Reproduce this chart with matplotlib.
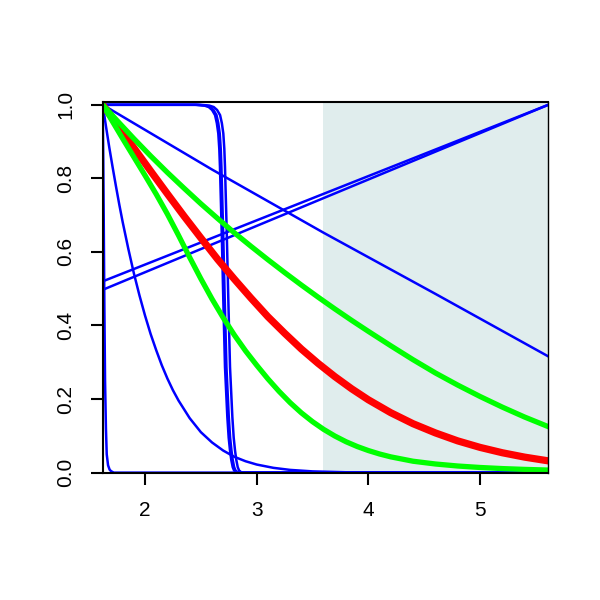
import matplotlib
matplotlib.use("Agg")
import matplotlib.pyplot as plt

plt.rcParams['font.family'] = ['Liberation Sans', 'DejaVu Sans']

# shaded interval on the x axis
shade_from = 3.59
shade_to = 5.611

# steep blue drop at the left edge
a_x = [1.621, 1.626, 1.630, 1.636, 1.642, 1.650, 1.657, 1.669, 1.683, 1.696, 1.720, 1.800, 5.611]
a_y = [1.0, 0.85, 0.70, 0.45, 0.25, 0.12, 0.05, 0.02, 0.008, 0.004, 0.0, 0.0, 0.0]

# blue fast decay
b_x = [1.621, 1.65, 1.68, 1.71, 1.74, 1.77, 1.80, 1.85, 1.90, 1.95, 2.00, 2.05, 2.10, 2.15,
       2.20, 2.25, 2.30, 2.40, 2.50, 2.60, 2.70, 2.80, 2.90, 3.00, 3.15, 3.30, 3.50, 3.80, 4.20, 5.611]
b_y = [1.0, 0.942, 0.884, 0.830, 0.778, 0.728, 0.681, 0.609, 0.542, 0.482, 0.427, 0.377, 0.333, 0.292,
       0.256, 0.224, 0.196, 0.148, 0.110, 0.082, 0.060, 0.043, 0.031, 0.022, 0.013, 0.0074, 0.0034, 0.001, 0.0003, 0.0]

# blue step-like curves near x = 2.7
c_y = [1.0, 1.0, 0.998, 0.994, 0.986, 0.972, 0.95, 0.922, 0.88, 0.831, 0.65, 0.468, 0.287, 0.151,
       0.095, 0.06, 0.035, 0.015, 0.006, 0.0, 0.0]
c1_x = [1.621, 2.45, 2.53, 2.57, 2.60, 2.627, 2.643, 2.656, 2.665, 2.671, 2.687, 2.701, 2.716, 2.737,
        2.749, 2.761, 2.772, 2.785, 2.797, 2.820, 5.611]
c2_x = [1.621, 2.463, 2.543, 2.583, 2.613, 2.640, 2.656, 2.669, 2.678, 2.684, 2.700, 2.714, 2.729, 2.750,
        2.762, 2.774, 2.785, 2.798, 2.810, 2.833, 5.611]
c3_x = [1.621, 2.495, 2.575, 2.615, 2.645, 2.672, 2.688, 2.701, 2.710, 2.716, 2.732, 2.746, 2.761, 2.782,
        2.794, 2.806, 2.817, 2.830, 2.842, 2.865, 5.611]

# blue slowly falling line
d_x = [1.621, 2.6, 3.6, 4.6, 5.611]
d_y = [1.0, 0.824, 0.652, 0.486, 0.316]

# two blue rising lines
e1_x = [1.621, 5.611]
e1_y = [0.52, 1.0]
e2_x = [1.621, 5.611]
e2_y = [0.497, 1.0]

# red curve
f_x = [1.621, 1.75, 1.9, 2.05, 2.2, 2.35, 2.5, 2.65, 2.8, 2.95, 3.1, 3.25, 3.4, 3.55, 3.7, 3.85,
       4.0, 4.2, 4.4, 4.6, 4.8, 5.0, 5.2, 5.4, 5.611]
f_y = [1.0, 0.946, 0.883, 0.820, 0.758, 0.697, 0.638, 0.580, 0.526, 0.474, 0.424, 0.379, 0.336, 0.297,
       0.261, 0.228, 0.198, 0.163, 0.133, 0.108, 0.0863, 0.0686, 0.054, 0.0421, 0.032]

# upper green curve
g_x = [1.621, 1.75, 1.9, 2.05, 2.2, 2.35, 2.5, 2.65, 2.8, 2.95, 3.1, 3.25, 3.4, 3.55, 3.7, 3.85,
       4.0, 4.2, 4.4, 4.6, 4.8, 5.0, 5.2, 5.4, 5.611]
g_y = [1.0, 0.957, 0.908, 0.861, 0.816, 0.773, 0.731, 0.691, 0.652, 0.615, 0.579, 0.544, 0.510, 0.477,
       0.445, 0.414, 0.384, 0.345, 0.307, 0.271, 0.238, 0.207, 0.178, 0.151, 0.125]

# lower green curve
h_x = [1.621, 1.70, 1.80, 1.90, 2.00, 2.10, 2.20, 2.30, 2.40, 2.50, 2.60, 2.70, 2.80, 2.90, 3.00,
       3.10, 3.20, 3.30, 3.40, 3.50, 3.60, 3.70, 3.80, 3.90, 4.00, 4.10, 4.20, 4.40, 4.60, 4.80,
       5.00, 5.20, 5.40, 5.611]
h_y = [1.0, 0.959, 0.908, 0.858, 0.808, 0.757, 0.703, 0.645, 0.585, 0.527, 0.472, 0.421, 0.374, 0.331, 0.292,
       0.255, 0.221, 0.190, 0.1625, 0.1385, 0.1175, 0.0995, 0.084, 0.071, 0.060, 0.0507, 0.0429, 0.031, 0.0235, 0.018,
       0.014, 0.011, 0.0088, 0.007]

x_ticks = [2, 3, 4, 5]
y_ticks = [0.0, 0.2, 0.4, 0.6, 0.8, 1.0]
y_labels = ['0.0', '0.2', '0.4', '0.6', '0.8', '1.0']

fig = plt.figure(figsize=(6, 6), dpi=100)
ax = fig.add_axes([102.7 / 600, 1 - 473 / 600, 445.6 / 600, 371 / 600])

ax.axvspan(shade_from, shade_to, color='#e0eded', lw=0, zorder=0)

blue = '#0000ff'
lw_b = 1.8
for xs, ys in [(a_x, a_y), (b_x, b_y), (c1_x, c_y), (c2_x, c_y), (c3_x, c_y),
               (d_x, d_y), (e1_x, e1_y), (e2_x, e2_y)]:
    ax.plot(xs, ys, color=blue, lw=lw_b, solid_joinstyle='round')

ax.plot(f_x, f_y, color='#ff0000', lw=5.2, solid_joinstyle='round')
ax.plot(g_x, g_y, color='#00ff00', lw=3.8, solid_joinstyle='round')
ax.plot(h_x, h_y, color='#00ff00', lw=3.8, solid_joinstyle='round')

ax.set_xlim(1.621, 5.611)
ax.set_ylim(-0.001, 1.0076)
ax.set_xticks(x_ticks)
ax.set_xticklabels([str(t) for t in x_ticks])
ax.set_yticks(y_ticks)
ax.set_yticklabels(y_labels, rotation=90, va='center')

ax.tick_params(length=8.5, width=1.5, labelsize=15, color='black')
ax.tick_params(axis='x', pad=12)
ax.tick_params(axis='y', pad=11)
for side in ['left', 'bottom', 'top']:
    ax.spines[side].set_linewidth(1.5)
ax.spines['right'].set_linewidth(1.0)

fig.savefig('out.png', dpi=100)
